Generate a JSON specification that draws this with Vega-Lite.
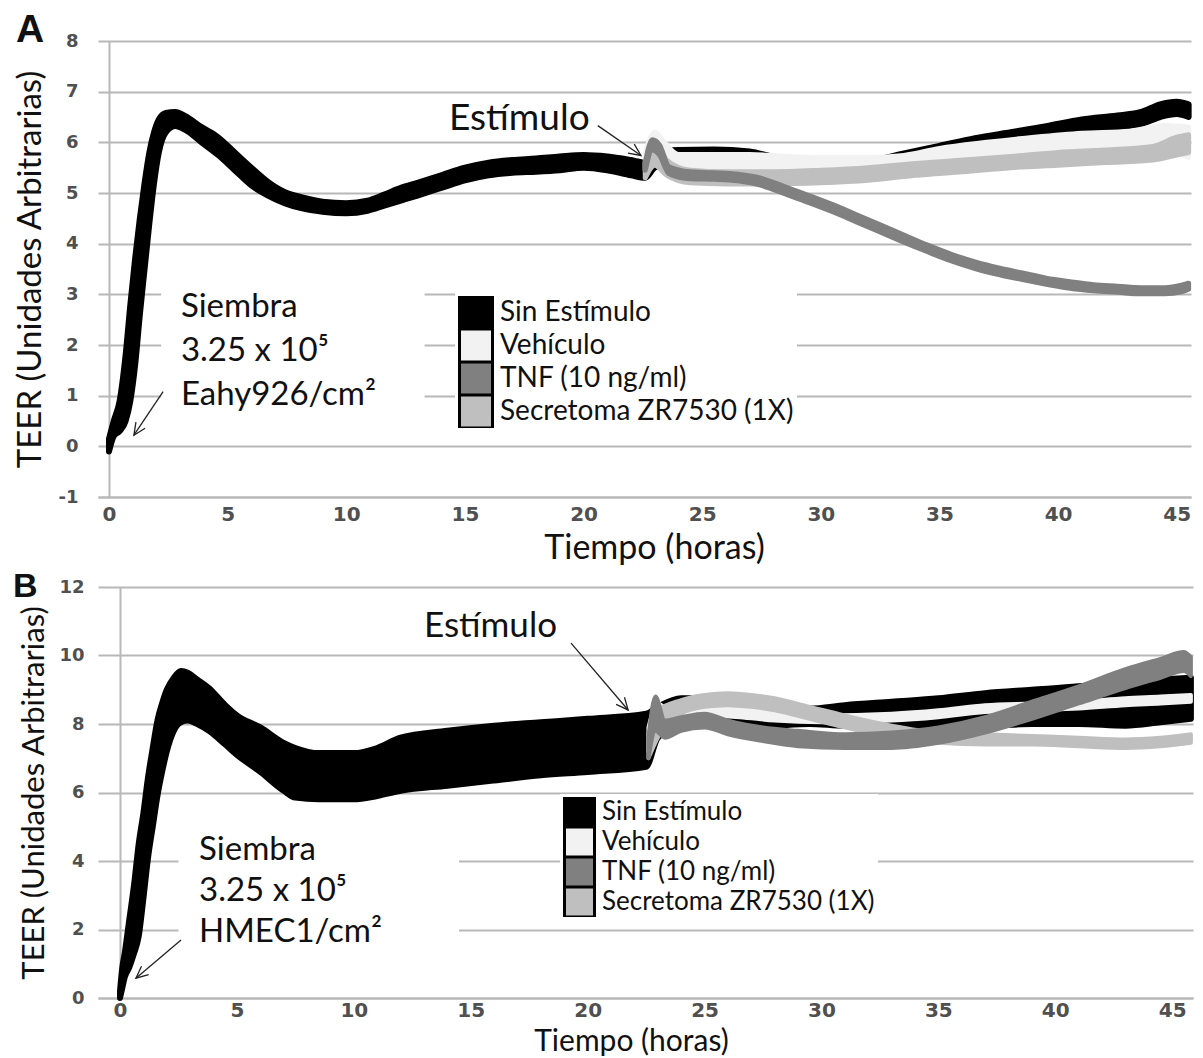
{
"$schema": "https://vega.github.io/schema/vega-lite/v6.json",
"padding": {"left": 12, "top": 11, "right": 0, "bottom": 0},
"spacing": 4,
"background": "white",
"config": {
  "view": {"stroke": null},
  "axis": {"labelFont": "DejaVu Sans", "labelFontWeight": "bold", "labelColor": "#505050", "titleFont": "Lato", "titleFontWeight": "normal", "titleColor": "#111111", "gridColor": "#b8b8b8", "gridWidth": 2, "domainColor": "#b8b8b8", "domainWidth": 2, "tickColor": "#b8b8b8", "tickWidth": 2, "zindex": 0, "labelOverlap": false, "labelFlush": false},
  "legend": {"symbolStrokeColor": "#000000", "symbolStrokeWidth": 3},
  "text": {"font": "Lato", "color": "#111111"}
},
"resolve": {"scale": {"color": "independent"}, "legend": {"color": "independent"}},
"datasets": {
"a": [
{"series":"Sin Estímulo","t":0,"lo":-0.1,"hi":0.15},{"series":"Sin Estímulo","t":0.2,"lo":0.2,"hi":0.5},{"series":"Sin Estímulo","t":0.45,"lo":0.3,"hi":0.9},{"series":"Sin Estímulo","t":0.7,"lo":0.5,"hi":1.8},{"series":"Sin Estímulo","t":0.9,"lo":0.9,"hi":2.8},{"series":"Sin Estímulo","t":1.1,"lo":1.6,"hi":3.7},{"series":"Sin Estímulo","t":1.3,"lo":2.6,"hi":4.5},{"series":"Sin Estímulo","t":1.5,"lo":3.5,"hi":5.2},{"series":"Sin Estímulo","t":1.7,"lo":4.4,"hi":5.8},{"series":"Sin Estímulo","t":1.9,"lo":5.2,"hi":6.2},{"series":"Sin Estímulo","t":2.1,"lo":5.8,"hi":6.45},{"series":"Sin Estímulo","t":2.4,"lo":6.2,"hi":6.58},{"series":"Sin Estímulo","t":2.8,"lo":6.32,"hi":6.6},{"series":"Sin Estímulo","t":3.2,"lo":6.25,"hi":6.52},{"series":"Sin Estímulo","t":3.9,"lo":6.0,"hi":6.3},{"series":"Sin Estímulo","t":4.6,"lo":5.75,"hi":6.1},{"series":"Sin Estímulo","t":5.3,"lo":5.45,"hi":5.8},{"series":"Sin Estímulo","t":6.0,"lo":5.15,"hi":5.5},{"series":"Sin Estímulo","t":6.7,"lo":4.95,"hi":5.22},{"series":"Sin Estímulo","t":7.4,"lo":4.8,"hi":5.02},{"series":"Sin Estímulo","t":8.1,"lo":4.7,"hi":4.92},{"series":"Sin Estímulo","t":9.0,"lo":4.63,"hi":4.83},{"series":"Sin Estímulo","t":10.0,"lo":4.6,"hi":4.8},{"series":"Sin Estímulo","t":10.9,"lo":4.65,"hi":4.85},{"series":"Sin Estímulo","t":11.6,"lo":4.75,"hi":4.97},{"series":"Sin Estímulo","t":12.3,"lo":4.85,"hi":5.1},{"series":"Sin Estímulo","t":13.0,"lo":4.95,"hi":5.2},{"series":"Sin Estímulo","t":14.0,"lo":5.1,"hi":5.35},{"series":"Sin Estímulo","t":15.0,"lo":5.25,"hi":5.5},{"series":"Sin Estímulo","t":16.0,"lo":5.35,"hi":5.6},{"series":"Sin Estímulo","t":17.0,"lo":5.4,"hi":5.65},{"series":"Sin Estímulo","t":18.0,"lo":5.42,"hi":5.68},{"series":"Sin Estímulo","t":19.0,"lo":5.45,"hi":5.72},{"series":"Sin Estímulo","t":20.0,"lo":5.5,"hi":5.75},{"series":"Sin Estímulo","t":21.0,"lo":5.45,"hi":5.72},{"series":"Sin Estímulo","t":22.0,"lo":5.35,"hi":5.65},{"series":"Sin Estímulo","t":22.6,"lo":5.3,"hi":5.6},{"series":"Sin Estímulo","t":23.0,"lo":5.5,"hi":5.8},{"series":"Sin Estímulo","t":24.0,"lo":5.62,"hi":5.85},{"series":"Sin Estímulo","t":25.5,"lo":5.64,"hi":5.86},{"series":"Sin Estímulo","t":27.0,"lo":5.6,"hi":5.82},{"series":"Sin Estímulo","t":28.5,"lo":5.45,"hi":5.66},{"series":"Sin Estímulo","t":30.0,"lo":5.4,"hi":5.62},{"series":"Sin Estímulo","t":32.0,"lo":5.42,"hi":5.64},{"series":"Sin Estímulo","t":33.5,"lo":5.55,"hi":5.78},{"series":"Sin Estímulo","t":35.0,"lo":5.7,"hi":5.93},{"series":"Sin Estímulo","t":36.5,"lo":5.85,"hi":6.08},{"series":"Sin Estímulo","t":38.0,"lo":5.98,"hi":6.2},{"series":"Sin Estímulo","t":39.5,"lo":6.1,"hi":6.32},{"series":"Sin Estímulo","t":41.0,"lo":6.22,"hi":6.45},{"series":"Sin Estímulo","t":42.5,"lo":6.3,"hi":6.53},{"series":"Sin Estímulo","t":43.5,"lo":6.36,"hi":6.6},{"series":"Sin Estímulo","t":44.3,"lo":6.5,"hi":6.75},{"series":"Sin Estímulo","t":45.0,"lo":6.56,"hi":6.8},{"series":"Sin Estímulo","t":45.5,"lo":6.5,"hi":6.75},
{"series":"Vehículo","t":22.6,"lo":5.45,"hi":5.8},{"series":"Vehículo","t":23.0,"lo":5.7,"hi":6.2},{"series":"Vehículo","t":23.4,"lo":5.6,"hi":6.0},{"series":"Vehículo","t":24.0,"lo":5.45,"hi":5.76},{"series":"Vehículo","t":25.5,"lo":5.45,"hi":5.76},{"series":"Vehículo","t":27.0,"lo":5.45,"hi":5.76},{"series":"Vehículo","t":28.5,"lo":5.42,"hi":5.72},{"series":"Vehículo","t":30.0,"lo":5.4,"hi":5.7},{"series":"Vehículo","t":32.0,"lo":5.42,"hi":5.7},{"series":"Vehículo","t":33.5,"lo":5.48,"hi":5.74},{"series":"Vehículo","t":35.0,"lo":5.55,"hi":5.88},{"series":"Vehículo","t":37.0,"lo":5.62,"hi":6.0},{"series":"Vehículo","t":39.0,"lo":5.68,"hi":6.1},{"series":"Vehículo","t":41.0,"lo":5.72,"hi":6.18},{"series":"Vehículo","t":43.0,"lo":5.75,"hi":6.22},{"series":"Vehículo","t":44.5,"lo":5.85,"hi":6.33},{"series":"Vehículo","t":45.5,"lo":5.7,"hi":6.3},
{"series":"Secretoma ZR7530 (1X)","t":22.6,"lo":5.3,"hi":5.6},{"series":"Secretoma ZR7530 (1X)","t":23.0,"lo":5.55,"hi":6.0},{"series":"Secretoma ZR7530 (1X)","t":23.5,"lo":5.35,"hi":5.65},{"series":"Secretoma ZR7530 (1X)","t":24.5,"lo":5.2,"hi":5.45},{"series":"Secretoma ZR7530 (1X)","t":26.0,"lo":5.18,"hi":5.42},{"series":"Secretoma ZR7530 (1X)","t":28.0,"lo":5.18,"hi":5.42},{"series":"Secretoma ZR7530 (1X)","t":30.0,"lo":5.2,"hi":5.45},{"series":"Secretoma ZR7530 (1X)","t":32.0,"lo":5.25,"hi":5.5},{"series":"Secretoma ZR7530 (1X)","t":34.0,"lo":5.35,"hi":5.58},{"series":"Secretoma ZR7530 (1X)","t":36.0,"lo":5.42,"hi":5.65},{"series":"Secretoma ZR7530 (1X)","t":38.0,"lo":5.5,"hi":5.72},{"series":"Secretoma ZR7530 (1X)","t":40.0,"lo":5.55,"hi":5.8},{"series":"Secretoma ZR7530 (1X)","t":42.0,"lo":5.6,"hi":5.85},{"series":"Secretoma ZR7530 (1X)","t":44.0,"lo":5.65,"hi":5.92},{"series":"Secretoma ZR7530 (1X)","t":45.0,"lo":5.75,"hi":6.1},{"series":"Secretoma ZR7530 (1X)","t":45.5,"lo":5.8,"hi":6.15},
{"series":"TNF (10 ng/ml)","t":22.6,"lo":5.45,"hi":5.6},{"series":"TNF (10 ng/ml)","t":22.9,"lo":5.85,"hi":6.05},{"series":"TNF (10 ng/ml)","t":23.2,"lo":5.75,"hi":5.95},{"series":"TNF (10 ng/ml)","t":23.6,"lo":5.38,"hi":5.52},{"series":"TNF (10 ng/ml)","t":24.5,"lo":5.28,"hi":5.42},{"series":"TNF (10 ng/ml)","t":25.5,"lo":5.27,"hi":5.4},{"series":"TNF (10 ng/ml)","t":26.5,"lo":5.24,"hi":5.37},{"series":"TNF (10 ng/ml)","t":27.5,"lo":5.15,"hi":5.29},{"series":"TNF (10 ng/ml)","t":28.5,"lo":4.98,"hi":5.12},{"series":"TNF (10 ng/ml)","t":29.5,"lo":4.81,"hi":4.95},{"series":"TNF (10 ng/ml)","t":30.5,"lo":4.63,"hi":4.77},{"series":"TNF (10 ng/ml)","t":31.5,"lo":4.43,"hi":4.57},{"series":"TNF (10 ng/ml)","t":32.5,"lo":4.23,"hi":4.37},{"series":"TNF (10 ng/ml)","t":33.5,"lo":4.03,"hi":4.17},{"series":"TNF (10 ng/ml)","t":34.5,"lo":3.84,"hi":3.97},{"series":"TNF (10 ng/ml)","t":35.5,"lo":3.66,"hi":3.79},{"series":"TNF (10 ng/ml)","t":36.5,"lo":3.51,"hi":3.64},{"series":"TNF (10 ng/ml)","t":37.5,"lo":3.39,"hi":3.52},{"series":"TNF (10 ng/ml)","t":38.5,"lo":3.29,"hi":3.42},{"series":"TNF (10 ng/ml)","t":39.5,"lo":3.2,"hi":3.32},{"series":"TNF (10 ng/ml)","t":40.5,"lo":3.12,"hi":3.25},{"series":"TNF (10 ng/ml)","t":41.5,"lo":3.07,"hi":3.19},{"series":"TNF (10 ng/ml)","t":42.5,"lo":3.04,"hi":3.16},{"series":"TNF (10 ng/ml)","t":43.5,"lo":3.01,"hi":3.13},{"series":"TNF (10 ng/ml)","t":44.5,"lo":3.01,"hi":3.13},{"series":"TNF (10 ng/ml)","t":45.2,"lo":3.05,"hi":3.18},{"series":"TNF (10 ng/ml)","t":45.5,"lo":3.1,"hi":3.22}
],
"b": [
{"series":"Sin Estímulo","t":0,"lo":0,"hi":0.2},{"series":"Sin Estímulo","t":0.1,"lo":0.3,"hi":0.9},{"series":"Sin Estímulo","t":0.2,"lo":0.6,"hi":1.3},{"series":"Sin Estímulo","t":0.4,"lo":0.9,"hi":2.3},{"series":"Sin Estímulo","t":0.6,"lo":1.3,"hi":3.3},{"series":"Sin Estímulo","t":0.8,"lo":1.8,"hi":4.5},{"series":"Sin Estímulo","t":1.0,"lo":2.9,"hi":5.4},{"series":"Sin Estímulo","t":1.2,"lo":4.1,"hi":6.45},{"series":"Sin Estímulo","t":1.4,"lo":5.0,"hi":7.3},{"series":"Sin Estímulo","t":1.6,"lo":5.9,"hi":8.1},{"series":"Sin Estímulo","t":1.8,"lo":6.6,"hi":8.6},{"series":"Sin Estímulo","t":2.0,"lo":7.2,"hi":9.0},{"series":"Sin Estímulo","t":2.3,"lo":7.8,"hi":9.35},{"series":"Sin Estímulo","t":2.6,"lo":8.05,"hi":9.55},{"series":"Sin Estímulo","t":2.9,"lo":8.1,"hi":9.5},{"series":"Sin Estímulo","t":3.3,"lo":8.0,"hi":9.3},{"series":"Sin Estímulo","t":3.8,"lo":7.8,"hi":9.05},{"series":"Sin Estímulo","t":4.5,"lo":7.4,"hi":8.55},{"series":"Sin Estímulo","t":5.0,"lo":7.1,"hi":8.25},{"series":"Sin Estímulo","t":6.0,"lo":6.6,"hi":7.9},{"series":"Sin Estímulo","t":7.0,"lo":6.05,"hi":7.45},{"series":"Sin Estímulo","t":7.5,"lo":5.85,"hi":7.3},{"series":"Sin Estímulo","t":8.5,"lo":5.8,"hi":7.15},{"series":"Sin Estímulo","t":10.0,"lo":5.8,"hi":7.15},{"series":"Sin Estímulo","t":11.0,"lo":5.9,"hi":7.3},{"series":"Sin Estímulo","t":12.0,"lo":6.05,"hi":7.6},{"series":"Sin Estímulo","t":14.0,"lo":6.2,"hi":7.8},{"series":"Sin Estímulo","t":16.0,"lo":6.35,"hi":7.95},{"series":"Sin Estímulo","t":18.0,"lo":6.5,"hi":8.05},{"series":"Sin Estímulo","t":20.0,"lo":6.6,"hi":8.15},{"series":"Sin Estímulo","t":22.5,"lo":6.75,"hi":8.3},{"series":"Sin Estímulo","t":23.0,"lo":7.6,"hi":8.5},{"series":"Sin Estímulo","t":24.0,"lo":8.0,"hi":8.75},{"series":"Sin Estímulo","t":25.0,"lo":7.95,"hi":8.75},{"series":"Sin Estímulo","t":26.5,"lo":7.9,"hi":8.7},{"series":"Sin Estímulo","t":28.0,"lo":7.95,"hi":8.5},{"series":"Sin Estímulo","t":29.5,"lo":8.0,"hi":8.45},{"series":"Sin Estímulo","t":31.0,"lo":7.95,"hi":8.55},{"series":"Sin Estímulo","t":33.0,"lo":7.95,"hi":8.65},{"series":"Sin Estímulo","t":35.0,"lo":7.95,"hi":8.75},{"series":"Sin Estímulo","t":37.0,"lo":7.95,"hi":8.9},{"series":"Sin Estímulo","t":39.0,"lo":8.0,"hi":9.0},{"series":"Sin Estímulo","t":41.0,"lo":8.0,"hi":9.1},{"series":"Sin Estímulo","t":43.0,"lo":7.95,"hi":9.25},{"series":"Sin Estímulo","t":44.5,"lo":8.05,"hi":9.3},{"series":"Sin Estímulo","t":45.8,"lo":8.15,"hi":9.35},
{"series":"Vehículo","t":22.6,"lo":7.2,"hi":7.9},{"series":"Vehículo","t":23.0,"lo":7.7,"hi":8.6},{"series":"Vehículo","t":23.5,"lo":8.0,"hi":8.4},{"series":"Vehículo","t":24.0,"lo":8.2,"hi":8.45},{"series":"Vehículo","t":25.0,"lo":8.25,"hi":8.5},{"series":"Vehículo","t":26.5,"lo":8.2,"hi":8.45},{"series":"Vehículo","t":28.0,"lo":8.1,"hi":8.35},{"series":"Vehículo","t":30.0,"lo":8.05,"hi":8.25},{"series":"Vehículo","t":33.0,"lo":8.1,"hi":8.3},{"series":"Vehículo","t":35.0,"lo":8.2,"hi":8.4},{"series":"Vehículo","t":37.0,"lo":8.35,"hi":8.55},{"series":"Vehículo","t":39.0,"lo":8.4,"hi":8.6},{"series":"Vehículo","t":41.0,"lo":8.45,"hi":8.65},{"series":"Vehículo","t":43.0,"lo":8.55,"hi":8.75},{"series":"Vehículo","t":44.5,"lo":8.6,"hi":8.8},{"series":"Vehículo","t":45.8,"lo":8.65,"hi":8.85},
{"series":"Secretoma ZR7530 (1X)","t":22.6,"lo":7.0,"hi":7.7},{"series":"Secretoma ZR7530 (1X)","t":23.0,"lo":7.6,"hi":8.4},{"series":"Secretoma ZR7530 (1X)","t":24.0,"lo":8.3,"hi":8.7},{"series":"Secretoma ZR7530 (1X)","t":25.0,"lo":8.5,"hi":8.85},{"series":"Secretoma ZR7530 (1X)","t":26.0,"lo":8.55,"hi":8.9},{"series":"Secretoma ZR7530 (1X)","t":27.0,"lo":8.5,"hi":8.85},{"series":"Secretoma ZR7530 (1X)","t":28.0,"lo":8.4,"hi":8.75},{"series":"Secretoma ZR7530 (1X)","t":29.5,"lo":8.15,"hi":8.5},{"series":"Secretoma ZR7530 (1X)","t":31.0,"lo":7.9,"hi":8.25},{"series":"Secretoma ZR7530 (1X)","t":33.0,"lo":7.6,"hi":7.95},{"series":"Secretoma ZR7530 (1X)","t":35.0,"lo":7.45,"hi":7.75},{"series":"Secretoma ZR7530 (1X)","t":37.0,"lo":7.4,"hi":7.7},{"series":"Secretoma ZR7530 (1X)","t":39.0,"lo":7.4,"hi":7.65},{"series":"Secretoma ZR7530 (1X)","t":41.0,"lo":7.35,"hi":7.6},{"series":"Secretoma ZR7530 (1X)","t":43.0,"lo":7.3,"hi":7.55},{"series":"Secretoma ZR7530 (1X)","t":44.5,"lo":7.35,"hi":7.6},{"series":"Secretoma ZR7530 (1X)","t":45.8,"lo":7.45,"hi":7.7},
{"series":"TNF (10 ng/ml)","t":22.6,"lo":7.0,"hi":7.6},{"series":"TNF (10 ng/ml)","t":22.9,"lo":7.8,"hi":8.8},{"series":"TNF (10 ng/ml)","t":23.3,"lo":7.6,"hi":8.1},{"series":"TNF (10 ng/ml)","t":24.0,"lo":7.8,"hi":8.2},{"series":"TNF (10 ng/ml)","t":25.0,"lo":7.9,"hi":8.3},{"series":"TNF (10 ng/ml)","t":26.0,"lo":7.7,"hi":8.1},{"series":"TNF (10 ng/ml)","t":27.5,"lo":7.5,"hi":7.9},{"series":"TNF (10 ng/ml)","t":29.0,"lo":7.35,"hi":7.8},{"series":"TNF (10 ng/ml)","t":31.0,"lo":7.3,"hi":7.7},{"series":"TNF (10 ng/ml)","t":33.0,"lo":7.3,"hi":7.75},{"series":"TNF (10 ng/ml)","t":35.0,"lo":7.45,"hi":7.9},{"series":"TNF (10 ng/ml)","t":37.0,"lo":7.75,"hi":8.2},{"series":"TNF (10 ng/ml)","t":39.0,"lo":8.15,"hi":8.65},{"series":"TNF (10 ng/ml)","t":41.0,"lo":8.6,"hi":9.1},{"series":"TNF (10 ng/ml)","t":43.0,"lo":9.05,"hi":9.6},{"series":"TNF (10 ng/ml)","t":44.5,"lo":9.35,"hi":9.9},{"series":"TNF (10 ng/ml)","t":45.5,"lo":9.55,"hi":10.1},{"series":"TNF (10 ng/ml)","t":45.8,"lo":9.4,"hi":9.95}
]
},
"vconcat": [
{
  "width": 1093, "height": 456,
  "layer": [
    {
      "data": {"name": "a"},
      "encoding": {
        "x": {"field": "t", "type": "quantitative", "scale": {"domain": [-0.4636, 45.6], "nice": false, "zero": false},
              "axis": {"title": "Tiempo (horas)", "values": [0,5,10,15,20,25,30,35,40,45], "ticks": false, "tickSize": 0, "grid": false, "labelFontSize": 20, "labelPadding": 7, "titleFontSize": 34, "titlePadding": 7, "titleX": 556, "titleAlign": "center"}},
        "y": {"field": "lo", "type": "quantitative", "scale": {"domain": [-1, 8], "nice": false, "zero": false},
              "axis": {"title": "TEER (Unidades Arbitrarias)", "values": [-1,0,1,2,3,4,5,6,7,8], "labelExpr": "'' + datum.value", "grid": true, "ticks": false, "tickSize": 0, "offset": -11, "labelFontSize": 18, "labelPadding": 31, "titleFontSize": 33, "titlePadding": 11}},
        "y2": {"field": "hi"},
        "color": {"field": "series", "type": "nominal",
          "scale": {"domain": ["Sin Estímulo", "Vehículo", "TNF (10 ng/ml)", "Secretoma ZR7530 (1X)"], "range": ["#000000", "#f2f2f2", "#808080", "#bfbfbf"]},
          "legend": {"orient": "none", "legendX": 357, "legendY": 252, "title": null, "direction": "vertical", "symbolType": "square", "symbolSize": 1089, "symbolStrokeColor": "#000000", "symbolStrokeWidth": 3, "symbolOpacity": 1, "labelFont": "Lato", "labelFontSize": 28, "labelColor": "#111111", "labelOffset": 6, "rowPadding": 0, "clipHeight": 33, "fillColor": "white", "padding": 3, "labelLimit": 400}}
      },
      "layer": [
        {"transform": [{"filter": "datum.series === 'Sin Estímulo'"}], "mark": {"type": "area", "interpolate": "monotone", "stroke": "#000000", "strokeWidth": 6, "strokeJoin": "round", "opacity": 1}},
        {"transform": [{"filter": "datum.series === 'Vehículo'"}], "mark": {"type": "area", "interpolate": "monotone", "stroke": "#f2f2f2", "strokeWidth": 5, "strokeJoin": "round", "opacity": 1}},
        {"transform": [{"filter": "datum.series === 'Secretoma ZR7530 (1X)'"}], "mark": {"type": "area", "interpolate": "monotone", "stroke": "#bfbfbf", "strokeWidth": 5, "strokeJoin": "round", "opacity": 1}},
        {"transform": [{"filter": "datum.series === 'TNF (10 ng/ml)'"}], "mark": {"type": "area", "interpolate": "monotone", "stroke": "#808080", "strokeWidth": 5, "strokeJoin": "round", "opacity": 1}}
      ]
    },
    {"data": {"values": [{}]}, "mark": {"type": "rect", "fill": "white"},
     "encoding": {"x": {"datum": 2.2, "type": "quantitative", "scale": {"domain": [-0.4636, 45.6], "nice": false, "zero": false}}, "x2": {"datum": 13.3}, "y": {"datum": 0.45, "type": "quantitative", "scale": {"domain": [-1, 8], "nice": false, "zero": false}}, "y2": {"datum": 3.5}}},
    {"data": {"values": [{}]}, "mark": {"type": "text", "text": ["Siembra", "3.25 x 10⁵", "Eahy926/cm²"], "fontSize": 33, "lineHeight": 44, "align": "left", "baseline": "alphabetic"},
     "encoding": {"x": {"datum": 3.03, "type": "quantitative", "scale": {"domain": [-0.4636, 45.6], "nice": false, "zero": false}}, "y": {"datum": 2.56, "type": "quantitative", "scale": {"domain": [-1, 8], "nice": false, "zero": false}}}},
    {"data": {"values": [{}]}, "mark": {"type": "rule", "color": "#222222", "strokeWidth": 1.3},
     "encoding": {"x": {"datum": 2.28, "type": "quantitative", "scale": {"domain": [-0.4636, 45.6], "nice": false, "zero": false}}, "x2": {"datum": 1.05}, "y": {"datum": 1.08, "type": "quantitative", "scale": {"domain": [-1, 8], "nice": false, "zero": false}}, "y2": {"datum": 0.22}}},
    {"data": {"values": [{}]}, "mark": {"type": "point", "shape": "M-0.55,1.2L0,0L0.55,1.2", "filled": false, "stroke": "#222222", "strokeWidth": 1.3, "size": 400, "angle": 213.4, "opacity": 1},
     "encoding": {"x": {"datum": 1.05, "type": "quantitative", "scale": {"domain": [-0.4636, 45.6], "nice": false, "zero": false}}, "y": {"datum": 0.22, "type": "quantitative", "scale": {"domain": [-1, 8], "nice": false, "zero": false}}}},
    {"data": {"values": [{}]}, "mark": {"type": "text", "text": "Estímulo", "fontSize": 37, "align": "left", "baseline": "alphabetic"},
     "encoding": {"x": {"datum": 14.33, "type": "quantitative", "scale": {"domain": [-0.4636, 45.6], "nice": false, "zero": false}}, "y": {"datum": 6.25, "type": "quantitative", "scale": {"domain": [-1, 8], "nice": false, "zero": false}}}},
    {"data": {"values": [{}]}, "mark": {"type": "rule", "color": "#222222", "strokeWidth": 1.3},
     "encoding": {"x": {"datum": 20.6, "type": "quantitative", "scale": {"domain": [-0.4636, 45.6], "nice": false, "zero": false}}, "x2": {"datum": 22.42}, "y": {"datum": 6.33, "type": "quantitative", "scale": {"domain": [-1, 8], "nice": false, "zero": false}}, "y2": {"datum": 5.74}}},
    {"data": {"values": [{}]}, "mark": {"type": "point", "shape": "M-0.55,1.2L0,0L0.55,1.2", "filled": false, "stroke": "#222222", "strokeWidth": 1.3, "size": 400, "angle": 124.8, "opacity": 1},
     "encoding": {"x": {"datum": 22.42, "type": "quantitative", "scale": {"domain": [-0.4636, 45.6], "nice": false, "zero": false}}, "y": {"datum": 5.74, "type": "quantitative", "scale": {"domain": [-1, 8], "nice": false, "zero": false}}}},
    {"data": {"values": [{}]}, "mark": {"type": "text", "text": "A", "font": "Liberation Sans", "fontWeight": "bold", "fontSize": 39, "align": "left", "baseline": "alphabetic", "clip": false},
     "encoding": {"x": {"datum": -3.92, "type": "quantitative", "scale": {"domain": [-0.4636, 45.6], "nice": false, "zero": false}}, "y": {"datum": 7.98, "type": "quantitative", "scale": {"domain": [-1, 8], "nice": false, "zero": false}}}}
  ]
},
{
  "width": 1095, "height": 411,
  "layer": [
    {
      "data": {"name": "b"},
      "encoding": {
        "x": {"field": "t", "type": "quantitative", "scale": {"domain": [-0.941, 45.89], "nice": false, "zero": false},
              "axis": {"title": "Tiempo (horas)", "values": [0,5,10,15,20,25,30,35,40,45], "ticks": false, "tickSize": 0, "grid": false, "labelFontSize": 20, "labelPadding": 2, "titleFontSize": 30, "titlePadding": 6, "titleX": 533, "titleAlign": "center"}},
        "y": {"field": "lo", "type": "quantitative", "scale": {"domain": [0, 12], "nice": false, "zero": false},
              "axis": {"title": "TEER (Unidades Arbitrarias)", "values": [0,2,4,6,8,10,12], "labelExpr": "'' + datum.value", "grid": true, "ticks": false, "tickSize": 0, "offset": -22, "labelFontSize": 18, "labelPadding": 36, "titleFontSize": 31, "titlePadding": 8}},
        "y2": {"field": "hi"},
        "color": {"field": "series", "type": "nominal",
          "scale": {"domain": ["Sin Estímulo", "Vehículo", "TNF (10 ng/ml)", "Secretoma ZR7530 (1X)"], "range": ["#000000", "#f2f2f2", "#808080", "#bfbfbf"]},
          "legend": {"orient": "none", "legendX": 462, "legendY": 207, "title": null, "direction": "vertical", "symbolType": "square", "symbolSize": 900, "symbolStrokeColor": "#000000", "symbolStrokeWidth": 3, "symbolOpacity": 1, "labelFont": "Lato", "labelFontSize": 26, "labelColor": "#111111", "labelOffset": 6, "rowPadding": 0, "clipHeight": 30, "fillColor": "white", "padding": 3, "labelLimit": 400}}
      },
      "layer": [
        {"transform": [{"filter": "datum.series === 'Sin Estímulo'"}], "mark": {"type": "area", "interpolate": "monotone", "stroke": "#000000", "strokeWidth": 6, "strokeJoin": "round", "opacity": 1}},
        {"transform": [{"filter": "datum.series === 'Vehículo'"}], "mark": {"type": "area", "interpolate": "monotone", "stroke": "#f2f2f2", "strokeWidth": 4, "strokeJoin": "round", "opacity": 1}},
        {"transform": [{"filter": "datum.series === 'Secretoma ZR7530 (1X)'"}], "mark": {"type": "area", "interpolate": "monotone", "stroke": "#bfbfbf", "strokeWidth": 4, "strokeJoin": "round", "opacity": 1}},
        {"transform": [{"filter": "datum.series === 'TNF (10 ng/ml)'"}], "mark": {"type": "area", "interpolate": "monotone", "stroke": "#808080", "strokeWidth": 4, "strokeJoin": "round", "opacity": 1}}
      ]
    },
    {"data": {"values": [{}]}, "mark": {"type": "rect", "fill": "white"},
     "encoding": {"x": {"datum": 2.5, "type": "quantitative", "scale": {"domain": [-0.941, 45.89], "nice": false, "zero": false}}, "x2": {"datum": 14.5}, "y": {"datum": 1.3, "type": "quantitative", "scale": {"domain": [0, 12], "nice": false, "zero": false}}, "y2": {"datum": 5.0}}},
    {"data": {"values": [{}]}, "mark": {"type": "text", "text": ["Siembra", "3.25 x 10⁵", "HMEC1/cm²"], "fontSize": 33, "lineHeight": 41, "align": "left", "baseline": "alphabetic"},
     "encoding": {"x": {"datum": 3.38, "type": "quantitative", "scale": {"domain": [-0.941, 45.89], "nice": false, "zero": false}}, "y": {"datum": 4.03, "type": "quantitative", "scale": {"domain": [0, 12], "nice": false, "zero": false}}}},
    {"data": {"values": [{}]}, "mark": {"type": "rule", "color": "#222222", "strokeWidth": 1.3},
     "encoding": {"x": {"datum": 2.61, "type": "quantitative", "scale": {"domain": [-0.941, 45.89], "nice": false, "zero": false}}, "x2": {"datum": 0.68}, "y": {"datum": 1.69, "type": "quantitative", "scale": {"domain": [0, 12], "nice": false, "zero": false}}, "y2": {"datum": 0.58}}},
    {"data": {"values": [{}]}, "mark": {"type": "point", "shape": "M-0.55,1.2L0,0L0.55,1.2", "filled": false, "stroke": "#222222", "strokeWidth": 1.3, "size": 400, "angle": 229.8, "opacity": 1},
     "encoding": {"x": {"datum": 0.68, "type": "quantitative", "scale": {"domain": [-0.941, 45.89], "nice": false, "zero": false}}, "y": {"datum": 0.58, "type": "quantitative", "scale": {"domain": [0, 12], "nice": false, "zero": false}}}},
    {"data": {"values": [{}]}, "mark": {"type": "text", "text": "Estímulo", "fontSize": 35, "align": "left", "baseline": "alphabetic"},
     "encoding": {"x": {"datum": 13.0, "type": "quantitative", "scale": {"domain": [-0.941, 45.89], "nice": false, "zero": false}}, "y": {"datum": 10.54, "type": "quantitative", "scale": {"domain": [0, 12], "nice": false, "zero": false}}}},
    {"data": {"values": [{}]}, "mark": {"type": "rule", "color": "#222222", "strokeWidth": 1.3},
     "encoding": {"x": {"datum": 19.29, "type": "quantitative", "scale": {"domain": [-0.941, 45.89], "nice": false, "zero": false}}, "x2": {"datum": 21.73}, "y": {"datum": 10.36, "type": "quantitative", "scale": {"domain": [0, 12], "nice": false, "zero": false}}, "y2": {"datum": 8.41}}},
    {"data": {"values": [{}]}, "mark": {"type": "point", "shape": "M-0.55,1.2L0,0L0.55,1.2", "filled": false, "stroke": "#222222", "strokeWidth": 1.3, "size": 400, "angle": 139.6, "opacity": 1},
     "encoding": {"x": {"datum": 21.73, "type": "quantitative", "scale": {"domain": [-0.941, 45.89], "nice": false, "zero": false}}, "y": {"datum": 8.41, "type": "quantitative", "scale": {"domain": [0, 12], "nice": false, "zero": false}}}},
    {"data": {"values": [{}]}, "mark": {"type": "text", "text": "B", "font": "Liberation Sans", "fontWeight": "bold", "fontSize": 34, "align": "left", "baseline": "alphabetic", "clip": false},
     "encoding": {"x": {"datum": -4.58, "type": "quantitative", "scale": {"domain": [-0.941, 45.89], "nice": false, "zero": false}}, "y": {"datum": 11.71, "type": "quantitative", "scale": {"domain": [0, 12], "nice": false, "zero": false}}}}
  ]
}
]
}
